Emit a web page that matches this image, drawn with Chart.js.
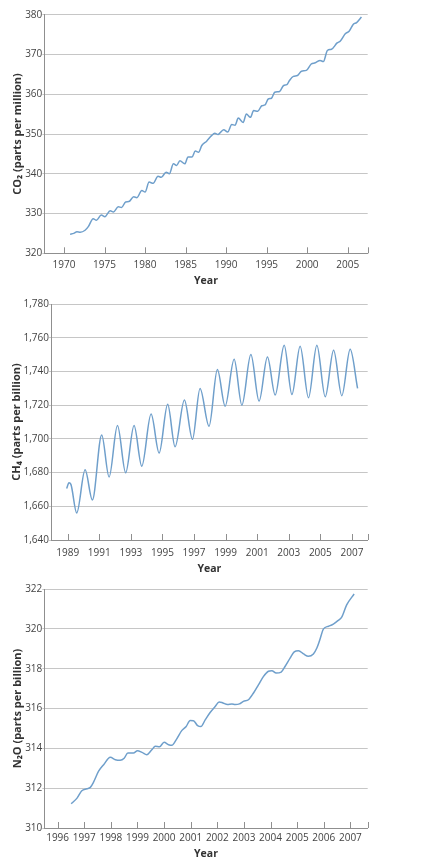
<!DOCTYPE html>
<html><head><meta charset="utf-8">
<script src="https://cdn.jsdelivr.net/npm/chart.js@4.4.1/dist/chart.umd.min.js"></script>
<style>
html,body{margin:0;padding:0;background:#fff;}
body{width:422px;height:868px;position:relative;overflow:hidden;}
canvas{position:absolute;left:0;}
</style></head><body>
<canvas id="c1" width="422" height="290" style="top:0;width:422px;height:290px"></canvas>
<canvas id="c2" width="422" height="288" style="top:290px;width:422px;height:288px"></canvas>
<canvas id="c3" width="422" height="290" style="top:578px;width:422px;height:290px"></canvas>
<script>
// ---- CO2 (parts per million) ----
const co2Years = [1970.75,1971.2,1971.6,1972.0,1972.6,1973.0,1973.6,1974.0,1974.6,1975.05,1975.7,1976.1,1976.7,1977.1,1977.6,1978.0,1978.6,1979.0,1979.6,1980.0,1980.5,1981.0,1981.6,1982.0,1982.6,1983.0,1983.5,1983.9,1984.3,1984.9,1985.3,1985.8,1986.2,1986.6,1987.0,1987.6,1988.2,1988.6,1989.0,1989.7,1990.2,1990.7,1991.1,1991.5,1992.1,1992.5,1993.0,1993.4,1993.9,1994.4,1994.8,1995.2,1995.6,1996.0,1996.6,1997.1,1997.5,1997.8,1998.3,1998.8,1999.3,1999.9,2000.5,2001.0,2001.6,2002.0,2002.5,2003.0,2003.7,2004.1,2004.7,2005.2,2005.7,2006.1,2006.7];
const co2Values = [324.8,325.0,325.4,325.3,325.8,326.7,328.7,328.3,329.6,329.2,330.7,330.4,331.7,331.5,332.9,333.0,334.2,334.0,335.8,335.4,337.9,337.6,339.4,339.1,340.4,340.0,342.5,342.1,343.3,342.5,344.2,344.2,345.7,345.4,347.1,348.2,349.6,350.2,349.9,351.1,350.5,352.4,352.2,354.0,352.9,355.0,354.2,355.9,355.7,357.1,357.3,358.8,359.0,360.5,360.7,362.2,362.4,363.4,364.5,364.7,365.8,366.0,367.6,367.9,368.5,368.2,371.0,371.3,372.9,373.4,375.2,375.9,377.6,378.0,379.4];
const co2XTicks = [1970,1975,1980,1985,1990,1995,2000,2005];
const co2XTickLabels = ['1970','1975','1980','1985','1990','1995','2000','2005'];
const co2YTicks = [320,330,340,350,360,370,380];
const co2YTickLabels = ['320','330','340','350','360','370','380'];

// ---- CH4 (parts per billion) ----
const ch4Years = [1988.93,1989.08,1989.2,1989.57,1990.1,1990.56,1991.15,1991.62,1992.15,1992.67,1993.2,1993.69,1994.28,1994.79,1995.33,1995.8,1996.39,1996.9,1997.38,1997.95,1998.48,1998.97,1999.54,2000.03,2000.6,2001.12,2001.65,2002.14,2002.71,2003.2,2003.72,2004.25,2004.78,2005.31,2005.84,2006.36,2006.89,2007.36];
const ch4Values = [1670.5,1673.9,1673.0,1656.0,1681.6,1663.7,1702.3,1677.4,1707.9,1679.9,1707.9,1683.8,1714.7,1691.6,1720.5,1695.3,1723.0,1699.7,1729.9,1707.5,1741.1,1719.4,1747.2,1720.0,1750.0,1722.4,1748.6,1726.0,1755.5,1726.3,1754.9,1724.4,1755.5,1725.0,1752.5,1725.6,1753.1,1729.9];
const ch4XTicks = [1989,1991,1993,1995,1997,1999,2001,2003,2005,2007];
const ch4XTickLabels = ['1989','1991','1993','1995','1997','1999','2001','2003','2005','2007'];
const ch4YTicks = [1640,1660,1680,1700,1720,1740,1760,1780];
const ch4YTickLabels = ['1,640','1,660','1,680','1,700','1,720','1,740','1,760','1,780'];

// ---- N2O (parts per billion) ----
const n2oYears = [1996.51,1996.73,1996.91,1997.1,1997.23,1997.35,1997.54,1997.73,1997.98,1998.17,1998.35,1998.5,1998.64,1998.85,1999.0,1999.17,1999.35,1999.54,1999.67,1999.83,2000.0,2000.17,2000.29,2000.46,2000.67,2000.83,2000.98,2001.1,2001.26,2001.38,2001.55,2001.73,2001.92,2002.07,2002.21,2002.38,2002.55,2002.67,2002.83,2002.98,2003.17,2003.36,2003.55,2003.73,2003.92,2004.05,2004.21,2004.4,2004.55,2004.74,2004.89,2005.05,2005.24,2005.42,2005.61,2005.74,2005.84,2005.99,2006.18,2006.36,2006.53,2006.68,2006.86,2007.14];
const n2oValues = [311.22,311.5,311.87,311.97,312.04,312.3,312.85,313.18,313.55,313.43,313.4,313.5,313.77,313.77,313.88,313.8,313.68,313.93,314.1,314.08,314.3,314.18,314.15,314.44,314.9,315.1,315.4,315.39,315.14,315.09,315.44,315.8,316.1,316.33,316.28,316.2,316.23,316.2,316.23,316.36,316.44,316.78,317.2,317.6,317.87,317.9,317.78,317.83,318.12,318.54,318.84,318.9,318.74,318.62,318.74,319.04,319.4,320.0,320.13,320.24,320.41,320.6,321.2,321.75];
const n2oXTicks = [1996,1997,1998,1999,2000,2001,2002,2003,2004,2005,2006,2007];
const n2oXTickLabels = ['1996','1997','1998','1999','2000','2001','2002','2003','2004','2005','2006','2007'];
const n2oYTicks = [310,312,314,316,318,320,322];
const n2oYTickLabels = ['310','312','314','316','318','320','322'];

const LINE_COLOR = '#6f9fcb';
const AXIS_COLOR = '#8f8f8f';
const GRID_COLOR = '#c6c6c6';
const FONT = "'Open Sans', 'DejaVu Sans', sans-serif";

Chart.defaults.font.family = FONT;

const innerTicks = {
  id: 'innerTicks',
  afterDraw(chart) {
    const xs = chart.scales.x, ca = chart.chartArea, ctx = chart.ctx;
    const px = xs.ticks.map(t => xs.getPixelForValue(t.value));
    px.push(ca.right);
    ctx.save();
    ctx.strokeStyle = AXIS_COLOR;
    ctx.lineWidth = 1;
    ctx.beginPath();
    px.forEach(p => {
      const x = Math.round(p) + 0.5;
      ctx.moveTo(x, ca.bottom);
      ctx.lineTo(x, ca.bottom - 6);
    });
    ctx.stroke();
    ctx.restore();
  }
};

function makeChart(id, years, values, o) {
  const data = years.map((y, i) => ({x: y, y: values[i]}));
  return new Chart(document.getElementById(id), {
    type: 'line',
    data: { datasets: [{ data, borderColor: LINE_COLOR, borderWidth: 1.5, pointRadius: 0,
      cubicInterpolationMode: 'monotone', fill: false }] },
    options: {
      responsive: false, animation: false,
      layout: { padding: { top: o.top, right: o.right, bottom: 0, left: 0 } },
      plugins: { legend: { display: false }, tooltip: { enabled: false } },
      scales: {
        x: {
          type: 'linear', min: o.xMin, max: o.xMax,
          afterBuildTicks: s => { s.ticks = o.xTicks.map(v => ({value: v})); },
          afterFit: s => { s.height = o.xAxisH; },
          grid: { drawOnChartArea: false, drawTicks: false },
          border: { color: AXIS_COLOR, width: 1 },
          ticks: { color: '#444', font: { size: 10 }, padding: o.tickPad, maxRotation: 0, autoSkip: false,
            callback: (v, i) => o.xTickLabels[i] },
          title: { display: true, text: 'Year', color: '#333', font: { size: 10.5, weight: 'bold' },
            padding: { top: 0, bottom: o.xTitlePad } }
        },
        y: {
          type: 'linear', min: o.yMin, max: o.yMax,
          afterBuildTicks: s => { s.ticks = o.yTicks.map(v => ({value: v})); },
          afterFit: s => { s.width = o.leftW; },
          grid: { color: GRID_COLOR, lineWidth: 1, drawTicks: true, tickLength: 2, tickColor: GRID_COLOR },
          border: { color: AXIS_COLOR, width: 1 },
          ticks: { color: '#444', font: { size: 10 }, padding: 0, autoSkip: false,
            callback: (v, i) => o.yTickLabels[i] },
          title: { display: true, text: o.yTitle, color: '#333', font: { size: 11, weight: 'bold' },
            padding: { top: o.yTitlePad, bottom: 0 } }
        }
      }
    },
    plugins: [innerTicks]
  });
}

makeChart('c1', co2Years, co2Values, {
  top: 14.7, right: 54.3, xAxisH: 36.7, leftW: 44.3, tickPad: 6, xTitlePad: 2.7, yTitlePad: 10.9,
  xMin: 1967.57, xMax: 2007.47, xTicks: co2XTicks, xTickLabels: co2XTickLabels,
  yMin: 320, yMax: 380, yTicks: co2YTicks, yTickLabels: co2YTickLabels,
  yTitle: 'CO\u2082 (parts per million)'
});
makeChart('c2', ch4Years, ch4Values, {
  top: 14, right: 54.3, xAxisH: 38, leftW: 51, tickPad: 7.3, xTitlePad: 2.4, yTitlePad: 10.1,
  xMin: 1987.94, xMax: 2008.0, xTicks: ch4XTicks, xTickLabels: ch4XTickLabels,
  yMin: 1640, yMax: 1780, yTicks: ch4YTicks, yTickLabels: ch4YTickLabels,
  yTitle: 'CH\u2084 (parts per billion)'
});
makeChart('c3', n2oYears, n2oValues, {
  top: 11, right: 54.3, xAxisH: 40, leftW: 44.3, tickPad: 4, xTitlePad: 7.7, yTitlePad: 10.9,
  xMin: 1995.5, xMax: 2007.65, xTicks: n2oXTicks, xTickLabels: n2oXTickLabels,
  yMin: 310, yMax: 322, yTicks: n2oYTicks, yTickLabels: n2oYTickLabels,
  yTitle: 'N\u2082O (parts per billion)'
});
</script>
</body></html>
